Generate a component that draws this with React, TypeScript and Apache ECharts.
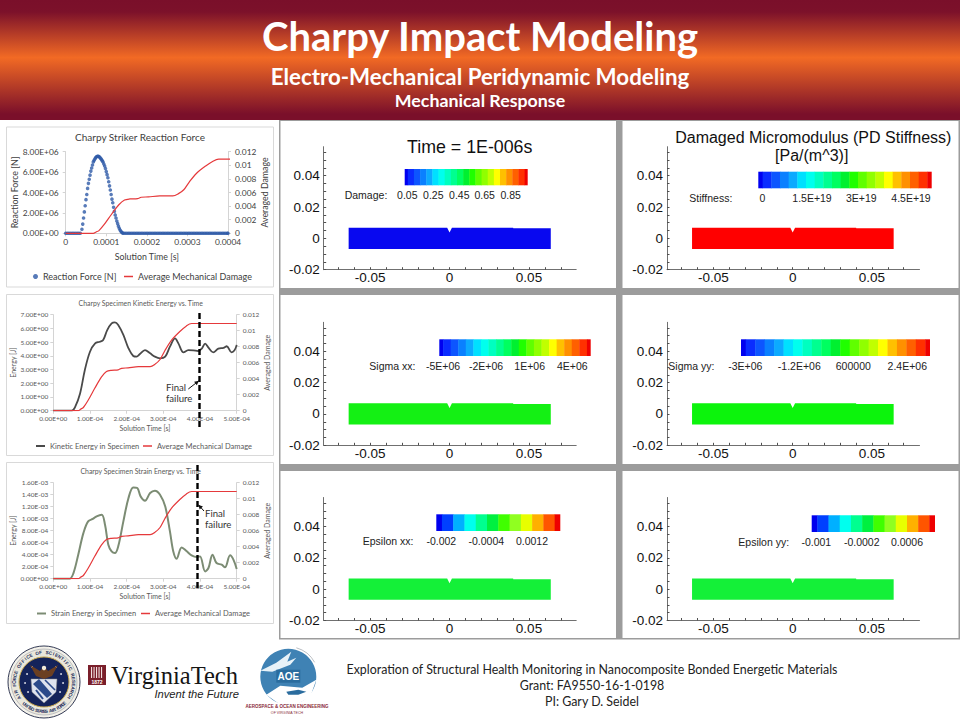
import React, { useEffect, useRef } from "react";
import * as echarts from "echarts";

// ---------- data ----------
const forceZeroTimesUs = [0,4,8,12,16,20,24,28,32,36,142,146,150,154,158,162,166,170,174,178,182,186,190,194,198,202,206,210,214,218,222,226,230,234,238,242,246,250,254,258,262,266,270,274,278,282,286,290,294,298,302,306,310,314,318,322,326,330,334,338,342,346,350,354,358,362,366,370,374,378,382,386,390,394,398,400];
const forcePulseTimesUs = [40,42,44,46,48,50,52,54,56,58,60,62,64,66,68,70,72,74,76,78,80,82,84,86,88,90,92,94,96,98,100,102,104,106,108,110,112,114,116,118,120,122,124,126,128,130,132,134,136,138,140];
const forcePulseMN = [0.4,0.9,1.5,2.1,2.7,3.3,3.8,4.4,4.9,5.3,5.7,6.1,6.4,6.7,7.0,7.15,7.3,7.42,7.5,7.55,7.55,7.52,7.45,7.35,7.25,7.12,7.0,6.8,6.6,6.35,6.05,5.75,5.45,5.05,4.65,4.25,3.8,3.35,3.0,2.55,2.15,1.8,1.5,1.2,0.95,0.7,0.5,0.33,0.2,0.1,0.03];

const damageTimesUs = [0,20,40,60,68,75,82,95,113,131,145,158,177,186,204,232,264,277,291,304,322,345,363,377,400,450,500];
const damageValues = [0,0,0,0,0,0.0002,0.0004,0.0013,0.0028,0.0042,0.0049,0.00505,0.0051,0.0053,0.00535,0.0055,0.0055,0.0058,0.0064,0.0075,0.0088,0.0099,0.0106,0.0109,0.0109,0.0109,0.0109];

const kineticTimesUs = [0,25,50,59,73,86,100,114,127,136,147,159,168,177,191,205,218,227,236,250,264,277,291,305,318,332,341,355,368,382,395,405,414,423,436,450,464,473,486,494,500];
const kineticValues = [0,0,0,0.24,1.26,2.97,4.3,4.91,5.03,5.15,5.88,6.37,6.44,6.25,5.53,4.55,3.99,3.94,4.13,4.42,4.18,3.94,3.82,3.94,4.67,5.27,4.91,4.25,4.42,4.4,4.35,4.53,4.89,4.6,4.25,4.53,4.58,4.7,4.25,4.4,4.8];

const strainTimesUs = [0,25,45,55,68,82,95,109,118,132,141,150,159,168,177,191,205,218,229,238,250,264,277,291,305,318,327,336,350,364,377,391,400,414,423,434,445,459,468,482,491,500];
const strainValuesMilli = [0,0,0,0.094,0.4,0.76,0.956,1.0,1.04,1.067,0.9,0.567,0.456,0.428,0.539,0.956,1.344,1.522,1.511,1.372,1.3,1.428,1.467,1.4,1.206,0.789,0.456,0.333,0.522,0.456,0.389,0.361,0.372,0.122,0.178,0.4,0.261,0.233,0.189,0.389,0.317,0.161];

const specimenX = [-0.0635,-0.0015,0,0.0015,0.04,0.0401,0.0637,0.0637,-0.0635];
const specimenY = [0.0068,0.0068,0.0038,0.0068,0.0068,0.0064,0.0064,-0.0068,-0.0068];

const panelXLabels = [-0.05,0,0.05];
const panelYLabels = [-0.02,0,0.02,0.04];
const panelXTicks = [-0.07,-0.06,-0.05,-0.04,-0.03,-0.02,-0.01,0,0.01,0.02,0.03,0.04,0.05,0.06,0.07];
const panelYTicks = [-0.02,-0.015,-0.01,-0.005,0,0.005,0.01,0.015,0.02,0.025,0.03,0.035,0.04,0.045,0.05,0.055];

const longBand = ["#0000f0","#0a2cff","#0d55ff","#0a80ff","#0caaff","#00e0ff","#00ffee","#00ffc0","#00ff90","#00ff60","#00f030","#20ff00","#60ff00","#90ff00","#c0ff00","#ffff00","#ffc000","#ff9000","#ff6000","#ff3000","#ee0000"];
const shortBand = ["#0000ee","#0040ff","#00b0ff","#00ffee","#00ff90","#00f040","#40ff00","#90ff20","#e8ff00","#ffb000","#ff5500","#ee0000"];

const damageKey = ["0.05","0.25","0.45","0.65","0.85"];
const stiffnessKey = ["0","1.5E+19","3E+19","4.5E+19"];
const sigmaXKey = ["-5E+06","-2E+06","1E+06","4E+06"];
const sigmaYKey = ["-3E+06","-1.2E+06","600000","2.4E+06"];
const epsXKey = ["-0.002","-0.0004","0.0012"];
const epsYKey = ["-0.001","-0.0002","0.0006"];

// ---------- layout ----------
const SANS = "Liberation Sans";
const CAL = "Lato";
const panels = [
  { left: 323.7, top: 146.7, xMin: -0.0792, xMax: 0.0797, color: "#0808f0", name: "Damage:", nameX: 344.7, keyY: 195.3, bar: [404.7, 169, 123, 16.3], band: longBand, key: damageKey, keyX: [407.3,433.3,459.3,484.7,510.7] },
  { left: 667, top: 146.7, xMin: -0.0793, xMax: 0.08, color: "#ff0000", name: "Stiffness:", nameX: 689.3, keyY: 198, bar: [758.3, 171.7, 173.4, 16.6], band: longBand, key: stiffnessKey, keyX: [762.3,812,861.3,911] },
  { left: 323.7, top: 322.3, xMin: -0.0792, xMax: 0.0797, color: "#14f014", name: "Sigma xx:", nameX: 369.3, keyY: 366, bar: [439.3, 339.3, 151.4, 16.7], band: longBand, key: sigmaXKey, keyX: [443,486,529.7,572.3] },
  { left: 667, top: 322.3, xMin: -0.0793, xMax: 0.08, color: "#0cf40c", name: "Sigma yy:", nameX: 668.3, keyY: 366, bar: [741, 339.3, 189, 16.7], band: longBand, key: sigmaYKey, keyX: [745.3,799.3,853.3,907.3] },
  { left: 323.7, top: 497.5, xMin: -0.0792, xMax: 0.0797, color: "#14f038", name: "Epsilon xx:", nameX: 362.7, keyY: 541, bar: [436.3, 514.3, 124, 16.7], band: shortBand, key: epsXKey, keyX: [441.3,486.3,532] },
  { left: 667, top: 497.5, xMin: -0.0793, xMax: 0.08, color: "#14f038", name: "Epsilon yy:", nameX: 738.3, keyY: 542, bar: [811.7, 515.3, 123.3, 16.7], band: shortBand, key: epsYKey, keyX: [816.3,861.7,907] },
];

const fmtE = (v: number) => {
  const [m, e] = v.toExponential(2).split("e");
  return `${m}E${e[0]}${e.slice(1).padStart(2, "0")}`;
};

function text(str: string, x: number, y: number, size: number, fill: string, opts: any = {}) {
  return {
    type: "text", x, y, z: opts.z ?? 20, rotation: opts.rotation ?? 0, silent: true,
    style: {
      text: str, fill, fontSize: size, fontFamily: opts.family ?? SANS, fontWeight: opts.weight ?? "normal",
      fontStyle: opts.style ?? "normal", align: opts.align ?? "center", verticalAlign: "middle",
      textAlign: opts.align ?? "center", textVerticalAlign: "middle",
    },
  };
}
const rect = (x: number, y: number, w: number, h: number, fill: any, stroke?: string, z = -10) => ({
  type: "rect", z, silent: true, shape: { x, y, width: w, height: h }, style: { fill, stroke: stroke ?? "none", lineWidth: 1 },
});

function colorBar(bar: number[], band: string[]) {
  const [x, y, w, h] = bar;
  const unit = w / (band.length - 1);
  const out: any[] = [];
  let cx = x;
  band.forEach((c, i) => {
    const bw = i === 0 || i === band.length - 1 ? unit / 2 : unit;
    out.push(rect(cx, y, bw + (i === band.length - 1 ? 0 : 0.4), h, c, undefined, 5));
    cx += bw;
  });
  return out;
}

function ringLetters(str: string, cx: number, cy: number, r: number, startDeg: number, stepDeg: number, bottom: boolean) {
  return str.split("").map((ch, i) => {
    const a = ((startDeg + i * stepDeg) * Math.PI) / 180;
    const rot = bottom ? -(a - Math.PI) : -a;
    return text(ch, cx + r * Math.sin(a), cy - r * Math.cos(a), 4.6, "#1a2a5a", { rotation: rot, weight: "bold", z: 22 });
  }).filter((_, i) => str[i] !== " ");
}

function logos() {
  const cx = 44, cy = 682;
  const stars = [[-17,-8],[-19,1],[-16,10],[17,-8],[19,1],[16,10],[-12,-15],[12,-15]];
  const seal: any[] = [
    { type: "circle", z: 20, shape: { cx, cy, r: 36 }, style: { fill: "#f4f2ea", stroke: "#333a55", lineWidth: 1 } },
    { type: "circle", z: 20, shape: { cx, cy, r: 33 }, style: { fill: "#e9e7dc", stroke: "#8a8f9f", lineWidth: 0.5 } },
    { type: "circle", z: 21, shape: { cx, cy, r: 25 }, style: { fill: "#14235a", stroke: "#c9a94e", lineWidth: 1 } },
    ...stars.map(([dx, dy]) => ({ type: "circle", z: 22, shape: { cx: cx + dx, cy: cy + dy, r: 0.9 }, style: { fill: "#e8e8f0" } })),
    { type: "polygon", z: 22, shape: { points: [[cx-13,cy-3],[cx+13,cy-3],[cx+12,cy+10],[cx,cy+21],[cx-12,cy+10]] }, style: { fill: "#dfe3ee", stroke: "#888", lineWidth: 0.5 } },
    { type: "polygon", z: 23, shape: { points: [[cx-11,cy+2],[cx-5,cy-3],[cx+8,cy+12],[cx+3,cy+16]] }, style: { fill: "#2c4a8a" } },
    { type: "line", z: 23, shape: { x1: cx-8, y1: cy+8, x2: cx-1, y2: cy+17 }, style: { stroke: "#2c4a8a", lineWidth: 2 } },
    { type: "line", z: 23, shape: { x1: cx+1, y1: cy-2, x2: cx+11, y2: cy+8 }, style: { stroke: "#2c4a8a", lineWidth: 1.6 } },
    { type: "polygon", z: 23, shape: { points: [[cx-14,cy-17],[cx-4,cy-11],[cx,cy-16],[cx+4,cy-11],[cx+14,cy-17],[cx+8,cy-6],[cx,cy-3],[cx-8,cy-6]] }, style: { fill: "#6b3f22" } },
    { type: "circle", z: 24, shape: { cx, cy: cy - 14, r: 2.2 }, style: { fill: "#f0ead8" } },
    ...ringLetters("AIR FORCE OFFICE OF SCIENTIFIC RESEARCH", cx, cy, 29.5, -122, 6.4, false),
    ...ringLetters("UNITED STATES AIR FORCE", cx, cy, 29.5, 222, -3.9, true),
  ];
  const shield: any[] = [
    rect(88, 665, 18, 20, "#7a1f2b", undefined, 20),
    ...[91, 93.5, 96, 98.5, 101].map((x) => rect(x, 667, 1.1, 11, "#f0e0e0", undefined, 21)),
    text("1872", 97, 681.5, 5, "#ffffff", { weight: "bold", z: 22 }),
    text("VirginiaTech", 111, 675, 24.5, "#151515", { family: "Liberation Serif", align: "left" }),
    text("Invent the Future", 239, 694, 11.2, "#222222", { style: "italic", align: "right" }),
  ];
  const ax = 288.3, ay = 676.7;
  const aoe: any[] = [
    { type: "arc", z: 20, shape: { cx: ax, cy: ay, r: 30, startAngle: -1.3, endAngle: -0.5 }, style: { stroke: "#a8aeb5", lineWidth: 0.8, fill: "none" } },
    { type: "circle", z: 20, shape: { cx: ax, cy: ay, r: 28 }, style: { fill: "#3f82b4" } },
    { type: "polygon", z: 21, shape: { points: [[ax-28,ay-6],[ax-12,ay-14],[ax+3,ay-25],[ax-1,ay-15],[ax+8,ay-19],[ax+2,ay-12],[ax-16,ay-5]] }, style: { fill: "#e8f2f8" } },
    rect(ax - 12, ay - 7, 24, 13, "#2a6c9e", undefined, 21),
    text("AOE", ax, ay, 10, "#ffffff", { weight: "bold", z: 22 }),
    { type: "polygon", z: 21, shape: { points: [[ax-22,ay+18],[ax-8,ay+9],[ax+14,ay+11],[ax+28,ay+3],[ax+22,ay+20],[ax+8,ay+28],[ax-8,ay+28]] }, style: { fill: "#ffffff" } },
    { type: "polygon", z: 22, shape: { points: [[ax-2,ay+15],[ax+10,ay+13],[ax+18,ay+15],[ax+10,ay+18],[ax,ay+18]] }, style: { fill: "#2a6c9e" } },
    text("AEROSPACE & OCEAN ENGINEERING", 287, 706.7, 4.5, "#8a2a3a", { weight: "bold", z: 23 }),
    text("OF VIRGINIA TECH", 287, 713, 3.6, "#8a2a3a", { z: 23 }),
  ];
  return [...seal, ...shield, ...aoe];
}

function arrow(x1: number, y1: number, x2: number, y2: number) {
  const a = Math.atan2(y2 - y1, x2 - x1);
  const s = 5;
  return [
    { type: "line", z: 26, shape: { x1, y1, x2, y2 }, style: { stroke: "#111", lineWidth: 1 } },
    { type: "polygon", z: 26, shape: { points: [[x2, y2],[x2 - s * Math.cos(a - 0.45), y2 - s * Math.sin(a - 0.45)],[x2 - s * Math.cos(a + 0.45), y2 - s * Math.sin(a + 0.45)]] }, style: { fill: "#111" } },
  ];
}

function buildOption() {
  const graphics: any[] = [
    rect(0, 0, 960, 120, {
      type: "linear", x: 0, y: 0, x2: 0, y2: 1,
      colorStops: [
        { offset: 0, color: "#7a0f2a" }, { offset: 0.1, color: "#7c112a" },
        { offset: 0.48, color: "#f26a24" }, { offset: 0.95, color: "#7a0f2a" }, { offset: 1, color: "#7a0f2a" },
      ],
    }, undefined, -20),
    text("Charpy Impact Modeling", 480, 36, 40, "#ffffff", { family: CAL, weight: "bold" }),
    text("Electro-Mechanical Peridynamic Modeling", 480, 76, 22.3, "#ffffff", { family: CAL, weight: "bold" }),
    text("Mechanical Response", 480, 100, 17.8, "#ffffff", { family: CAL, weight: "bold" }),
    rect(279, 120, 681, 519.5, "#9c9c9c", undefined, -20),
    ...[[280.5,121,335.5,167],[622.5,121,336,167],[280.5,295,335.5,169],[622.5,295,336,169],[280.5,471,335.5,167],[622.5,471,336,167]].map(
      (b) => rect(b[0], b[1], b[2], b[3], "#ffffff")
    ),
    rect(6.5, 127, 267, 160, "#ffffff", "#d9d9d9"),
    rect(6.5, 294.5, 267, 161, "#ffffff", "#d9d9d9"),
    rect(6.5, 462.5, 267, 161, "#ffffff", "#d9d9d9"),
    text("Time = 1E-006s", 469.7, 146.7, 17.8, "#111111"),
    text("Damaged Micromodulus (PD Stiffness)", 813.3, 137.7, 16, "#111111"),
    text("[Pa/(m^3)]", 811.7, 155, 16, "#111111"),
    { type: "line", z: 25, shape: { x1: 199.5, y1: 313, x2: 199.5, y2: 430 }, style: { stroke: "#000", lineWidth: 2.4, lineDash: [6, 3] } },
    { type: "line", z: 25, shape: { x1: 197.5, y1: 465, x2: 197.5, y2: 590 }, style: { stroke: "#000", lineWidth: 2.4, lineDash: [6, 3] } },
    ...arrow(188.3, 389, 199, 380.7),
    ...arrow(204, 511, 198.3, 504.7),
    text("Final", 166, 387, 9.6, "#333333", { family: CAL, align: "left" }),
    text("failure", 166, 398.5, 9.6, "#333333", { family: CAL, align: "left" }),
    text("Final", 205, 513, 9.6, "#333333", { family: CAL, align: "left" }),
    text("failure", 205, 524, 9.6, "#333333", { family: CAL, align: "left" }),
    text("Exploration of Structural Health Monitoring in Nanocomposite Bonded Energetic Materials", 592, 669, 12.4, "#222222", { family: CAL }),
    text("Grant: FA9550-16-1-0198", 592, 685, 12.4, "#222222", { family: CAL }),
    text("PI: Gary D. Seidel", 592, 701, 12.4, "#222222", { family: CAL }),
    ...logos(),
  ];
  panels.forEach((p) => {
    graphics.push(...colorBar(p.bar, p.band));
    graphics.push(text(p.name, p.nameX, p.keyY, 10.5, "#222222", { align: "left" }));
    p.key.forEach((k, i) => graphics.push(text(k, p.keyX[i], p.keyY, 10.5, "#222222")));
  });

  const grids: any[] = [
    { left: 65.7, top: 151.7, width: 162.3, height: 81.6 },
    { left: 53.3, top: 314.7, width: 183.4, height: 96 },
    { left: 53.3, top: 482.7, width: 183.4, height: 96 },
    ...panels.map((p) => ({ left: p.left, top: p.top, width: 252.5, height: 123 })),
  ];

  const excelAxis = (size: number, nameSize: number, color: string, margin: number) => ({
    axisLine: { show: true, onZero: false, lineStyle: { color: "#d4d4d4" } },
    axisTick: { show: true, length: 3, lineStyle: { color: "#d4d4d4" } },
    splitLine: { show: false },
    axisLabel: { fontSize: size, fontFamily: CAL, color, margin },
    nameTextStyle: { fontSize: nameSize, fontFamily: CAL, color },
    nameLocation: "middle" as const,
  });

  const xAxes: any[] = [
    { gridIndex: 0, type: "value", min: 0, max: 0.0004, interval: 0.0001, name: "Solution Time [s]", nameGap: 19, ...excelAxis(8.4, 8.8, "#404040", 5),
      axisLabel: { fontSize: 8.4, fontFamily: CAL, color: "#404040", margin: 5, formatter: (v: number) => String(+v.toFixed(4)) } },
    { gridIndex: 1, type: "value", min: 0, max: 0.0005, interval: 0.0001, name: "Solution Time [s]", nameGap: 14, ...excelAxis(6.5, 7, "#595959", 4),
      axisLabel: { fontSize: 6.5, fontFamily: CAL, color: "#595959", margin: 4, formatter: fmtE } },
    { gridIndex: 2, type: "value", min: 0, max: 0.0005, interval: 0.0001, name: "Solution Time [s]", nameGap: 14, ...excelAxis(6.5, 7, "#595959", 4),
      axisLabel: { fontSize: 6.5, fontFamily: CAL, color: "#595959", margin: 4, formatter: fmtE } },
    ...panels.map((p, i) => ({
      gridIndex: 3 + i, type: "value", min: p.xMin, max: p.xMax,
      axisLine: { show: true, onZero: false, lineStyle: { color: "#707070" } },
      axisTick: { show: true, inside: true, length: 2.5, lineStyle: { color: "#505050" }, customValues: panelXTicks },
      axisLabel: { fontSize: 13.5, fontFamily: SANS, color: "#111111", margin: 1, customValues: panelXLabels },
      splitLine: { show: false },
    })),
  ];

  const yAxes: any[] = [
    { gridIndex: 0, type: "value", position: "left", min: 0, max: 8e6, interval: 2e6, name: "Reaction Force [N]", nameGap: 37, ...excelAxis(8.4, 8.8, "#404040", 7),
      axisLabel: { fontSize: 8.4, fontFamily: CAL, color: "#404040", margin: 7, formatter: fmtE } },
    { gridIndex: 0, type: "value", position: "right", min: 0, max: 0.012, interval: 0.002, name: "Averaged Damage", nameRotate: 90, nameGap: 30, ...excelAxis(8.4, 8.8, "#404040", 7) },
    { gridIndex: 1, type: "value", position: "left", min: 0, max: 7, interval: 1, name: "Energy [J]", nameGap: 28, ...excelAxis(6.5, 7, "#595959", 5),
      axisLabel: { fontSize: 6.5, fontFamily: CAL, color: "#595959", margin: 5, formatter: fmtE } },
    { gridIndex: 1, type: "value", position: "right", min: 0, max: 0.012, interval: 0.002, name: "Averaged Damage", nameRotate: 90, nameGap: 25, ...excelAxis(6.5, 7, "#595959", 6) },
    { gridIndex: 2, type: "value", position: "left", min: 0, max: 0.0016, interval: 0.0002, name: "Energy [J]", nameGap: 28, ...excelAxis(6.5, 7, "#595959", 5),
      axisLabel: { fontSize: 6.5, fontFamily: CAL, color: "#595959", margin: 5, formatter: fmtE } },
    { gridIndex: 2, type: "value", position: "right", min: 0, max: 0.012, interval: 0.002, name: "Averaged Damage", nameRotate: 90, nameGap: 25, ...excelAxis(6.5, 7, "#595959", 6) },
    ...panels.map((_, i) => ({
      gridIndex: 3 + i, type: "value", min: -0.02, max: 0.0585,
      axisLine: { show: true, onZero: false, lineStyle: { color: "#707070" } },
      axisTick: { show: true, inside: true, length: 2.5, lineStyle: { color: "#505050" }, customValues: panelYTicks },
      axisLabel: { fontSize: 13.5, fontFamily: SANS, color: "#111111", margin: 4, customValues: panelYLabels },
      splitLine: { show: false },
    })),
  ];

  const damagePoints = damageTimesUs.map((t, i) => [t * 1e-6, damageValues[i]]);
  const redLine = (x: number, y: number) => ({
    name: "Average Mechanical Damage", type: "line", xAxisIndex: x, yAxisIndex: y, data: damagePoints,
    symbol: "none", smooth: 0.3, z: 4, itemStyle: { color: "#e5393b" }, lineStyle: { color: "#e5393b", width: 1.2 },
  });

  const series: any[] = [
    {
      name: "Reaction Force [N]", type: "scatter", xAxisIndex: 0, yAxisIndex: 0, symbolSize: 3.6, z: 3,
      itemStyle: { color: "#2e5aa8" },
      data: [
        ...forceZeroTimesUs.map((t) => [t * 1e-6, 0]),
        ...forcePulseTimesUs.map((t, i) => [t * 1e-6, forcePulseMN[i] * 1e6]),
      ],
    },
    redLine(0, 1),
    {
      name: "Kinetic Energy in Specimen", type: "line", xAxisIndex: 1, yAxisIndex: 2, symbol: "none", smooth: 0.35, z: 3,
      data: kineticTimesUs.map((t, i) => [t * 1e-6, kineticValues[i]]),
      itemStyle: { color: "#4a4a4a" }, lineStyle: { color: "#4a4a4a", width: 1.8 },
    },
    redLine(1, 3),
    {
      name: "Strain Energy in Specimen", type: "line", xAxisIndex: 2, yAxisIndex: 4, symbol: "none", smooth: 0.35, z: 3,
      data: strainTimesUs.map((t, i) => [t * 1e-6, strainValuesMilli[i] * 1e-3]),
      itemStyle: { color: "#7c8c74" }, lineStyle: { color: "#7c8c74", width: 2 },
    },
    redLine(2, 5),
    ...panels.map((p, i) => ({
      name: p.name, type: "custom", xAxisIndex: 3 + i, yAxisIndex: 6 + i, clip: false,
      data: specimenX.map((x, k) => [x, specimenY[k]]), encode: { x: 0, y: 1 },
      renderItem: (params: any, api: any) => {
        if (params.dataIndex !== 0) return undefined;
        return { type: "polygon", shape: { points: specimenX.map((x, k) => api.coord([x, specimenY[k]])) }, style: { fill: p.color } };
      },
    })),
  ];

  const legendBase = { orient: "horizontal", padding: 0, selectedMode: false };
  const lineKey = (name: string, color: string) => ({ name, icon: "rect", itemStyle: { color } });
  const legends: any[] = [
    { ...legendBase, left: 33, top: 272, itemWidth: 5, itemHeight: 5, data: [{ name: "Reaction Force [N]", icon: "circle" }], textStyle: { fontSize: 9, fontFamily: CAL, color: "#404040" } },
    { ...legendBase, left: 124, top: 272, itemWidth: 9, itemHeight: 1.5, data: [lineKey("Average Mechanical Damage", "#e5393b")], textStyle: { fontSize: 9, fontFamily: CAL, color: "#404040" } },
    { ...legendBase, left: 36, top: 442, itemWidth: 9, itemHeight: 2, data: [lineKey("Kinetic Energy in Specimen", "#4a4a4a")], textStyle: { fontSize: 7.5, fontFamily: CAL, color: "#595959" } },
    { ...legendBase, left: 143, top: 442, itemWidth: 9, itemHeight: 1.5, data: [lineKey("Average Mechanical Damage", "#e5393b")], textStyle: { fontSize: 7.5, fontFamily: CAL, color: "#595959" } },
    { ...legendBase, left: 37, top: 609.5, itemWidth: 9, itemHeight: 2, data: [lineKey("Strain Energy in Specimen", "#7c8c74")], textStyle: { fontSize: 7.5, fontFamily: CAL, color: "#595959" } },
    { ...legendBase, left: 141, top: 609.5, itemWidth: 9, itemHeight: 1.5, data: [lineKey("Average Mechanical Damage", "#e5393b")], textStyle: { fontSize: 7.5, fontFamily: CAL, color: "#595959" } },
  ];

  const titles: any[] = [
    { text: "Charpy Striker Reaction Force", left: 140, top: 132, textAlign: "center", padding: 0, textStyle: { fontSize: 10, fontWeight: "normal", fontFamily: CAL, color: "#404040" } },
    { text: "Charpy Specimen Kinetic Energy vs. Time", left: 140.7, top: 299, textAlign: "center", padding: 0, textStyle: { fontSize: 6.9, fontWeight: "normal", fontFamily: CAL, color: "#595959" } },
    { text: "Charpy Specimen Strain Energy vs. Time", left: 140.7, top: 467.5, textAlign: "center", padding: 0, textStyle: { fontSize: 6.9, fontWeight: "normal", fontFamily: CAL, color: "#595959" } },
  ];

  return {
    animation: false, backgroundColor: "#ffffff",
    title: titles, legend: legends, grid: grids, xAxis: xAxes, yAxis: yAxes, series,
    graphic: { elements: graphics },
  };
}

export default function App() {
  const ref = useRef<HTMLDivElement>(null);
  useEffect(() => {
    document.body.style.margin = "0";
    const chart = echarts.init(ref.current!, undefined, { renderer: "svg" });
    chart.setOption(buildOption() as any);
    return () => chart.dispose();
  }, []);
  return <div ref={ref} style={{ width: 960, height: 720 }} />;
}
